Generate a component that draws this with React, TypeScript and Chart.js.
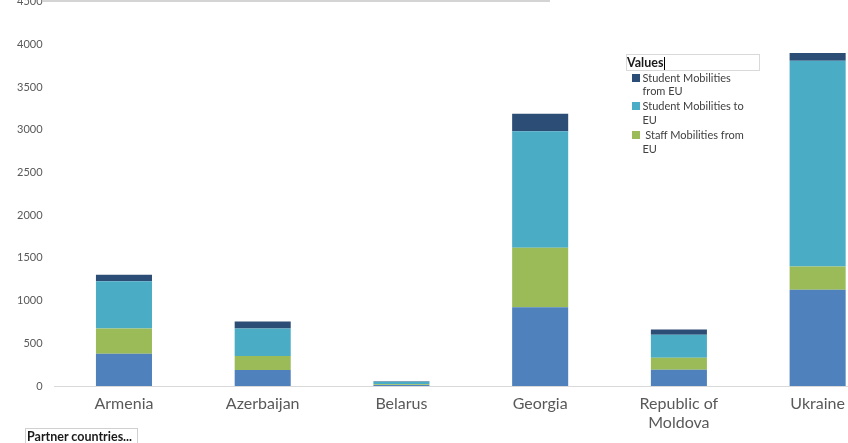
import React, { useEffect, useRef } from "react";
import { Chart, registerables } from "chart.js";

Chart.register(...registerables);

const categories: (string | string[])[] = [
  "Armenia",
  "Azerbaijan",
  "Belarus",
  "Georgia",
  ["Republic of", "Moldova"],
  "Ukraine",
];

const seriesNames = [
  "Staff Mobilities to EU",
  "Staff Mobilities from EU",
  "Student Mobilities to EU",
  "Student Mobilities from EU",
];

// legend entries as they are wrapped in the reference (top series first)
const legendLines: string[][] = [
  ["Student Mobilities", "from EU"],
  ["Student Mobilities to", "EU"],
  ["\u00a0Staff Mobilities from", "EU"],
];
const legendSeries = [3, 2, 1];

const seriesColors = ["#4F81BD", "#9BBB59", "#4BACC6", "#2C4D75"];

const staffToEU = [378, 187, 12, 922, 191, 1128];
const staffFromEU = [295, 163, 8, 697, 140, 272];
const studentToEU = [552, 323, 30, 1362, 268, 2408];
const studentFromEU = [78, 82, 5, 205, 62, 89];

const seriesValues = [staffToEU, staffFromEU, studentToEU, studentFromEU];

const yTicks = [0, 500, 1000, 1500, 2000, 2500, 3000, 3500, 4000, 4500];

const FONT = "Lato, 'Open Sans', sans-serif";

export default function App() {
  const ref = useRef<HTMLCanvasElement | null>(null);

  useEffect(() => {
    if (!ref.current) return;
    const chart = new Chart(ref.current, {
      type: "bar",
      data: {
        labels: categories as any,
        datasets: seriesNames.map((name, i) => ({
          label: name,
          data: seriesValues[i],
          backgroundColor: seriesColors[i],
          borderWidth: 0,
          barPercentage: 0.404,
          categoryPercentage: 1,
        })),
      },
      options: {
        animation: false,
        responsive: false,
        maintainAspectRatio: false,
        layout: { padding: { left: 0, right: 13, top: 0, bottom: 0 } },
        plugins: {
          legend: { display: false },
          tooltip: { enabled: false },
        },
        scales: {
          x: {
            stacked: true,
            grid: { display: false, drawTicks: false },
            border: { display: true, color: "#D9D9D9", width: 1 },
            ticks: {
              color: "#595959",
              font: { family: FONT, size: 16, lineHeight: 1.2 },
              padding: 8,
              maxRotation: 0,
              autoSkip: false,
            },
            afterFit: (scale: any) => {
              scale.height = 60;
            },
          },
          y: {
            stacked: true,
            min: 0,
            max: 4500,
            afterBuildTicks: (scale: any) => {
              scale.ticks = yTicks.map((v) => ({ value: v }));
            },
            grid: { display: false, drawTicks: false },
            border: { display: false },
            ticks: {
              color: "#595959",
              font: { family: FONT, size: 11 },
              padding: 12,
              callback: (v: any) => String(v),
            },
            afterFit: (scale: any) => {
              scale.width = 54.6;
            },
          },
        },
      },
    });
    return () => chart.destroy();
  }, []);

  return (
    <div
      style={{
        position: "fixed",
        left: 0,
        top: 0,
        width: 848,
        height: 443,
        overflow: "hidden",
        background: "#fff",
      }}
    >
      <canvas
        ref={ref}
        width={900}
        height={463}
        style={{ position: "absolute", left: 0, top: -17, width: 900, height: 463 }}
      />
      <div
        style={{
          position: "absolute",
          left: 43,
          top: 0,
          width: 507,
          height: 2,
          background: "#D4D4D4",
        }}
      />
      <div
        style={{
          position: "absolute",
          left: 626,
          top: 54,
          width: 132,
          height: 15,
          border: "1px solid #D9D9D9",
          fontFamily: FONT,
          fontSize: 12.5,
          fontWeight: 700,
          color: "#1a1a1a",
          lineHeight: "15px",
          boxSizing: "content-box",
          whiteSpace: "nowrap",
        }}
      >
        <span>Values</span>
        <span
          style={{
            display: "inline-block",
            width: 1,
            height: 13,
            background: "#000",
            verticalAlign: "middle",
            marginLeft: 1,
          }}
        />
      </div>
      <div
        style={{
          position: "absolute",
          left: 632,
          top: 70.5,
          width: 130,
          fontFamily: FONT,
          fontSize: 11,
          color: "#404040",
          lineHeight: "13.7px",
        }}
      >
        {legendSeries.map((s, k) => (
          <div key={s} style={{ display: "flex", alignItems: "flex-start", marginBottom: 1.5 }}>
            <div
              style={{
                width: 8,
                height: 8,
                background: seriesColors[s],
                marginTop: 3,
                marginRight: 2.5,
                flex: "0 0 auto",
              }}
            />
            <div style={{ whiteSpace: "nowrap" }}>
              {legendLines[k].map((line, j) => (
                <div key={j}>{line}</div>
              ))}
            </div>
          </div>
        ))}
      </div>
      <div
        style={{
          position: "absolute",
          left: 25,
          top: 428,
          width: 113,
          height: 17,
          border: "1px solid #D0D0D0",
          fontFamily: FONT,
          fontSize: 12.5,
          fontWeight: 700,
          color: "#1a1a1a",
          lineHeight: "16px",
          paddingLeft: 1,
          boxSizing: "border-box",
          whiteSpace: "nowrap",
        }}
      >
        Partner countries...
      </div>
    </div>
  );
}
